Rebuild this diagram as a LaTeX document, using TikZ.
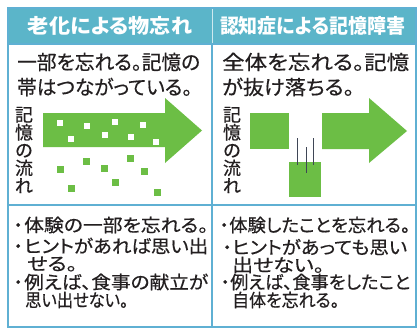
\documentclass[tikz,border=0pt]{standalone}
\usepackage{graphicx}
\usepackage{fontspec}
\newfontfamily\jp[RawFeature=+palt,FakeBold=0.5]{Noto Sans CJK JP}
\newfontfamily\jpv[FakeBold=0.6]{Noto Sans CJK JP}
\newfontfamily\jpH[RawFeature=+palt]{Noto Sans CJK JP}
\newcommand\fitw[2]{\resizebox{#1pt}{\height}{#2}}
\newcommand\bdL{\llap{\makebox[12pt][c]{・}}}
\newcommand\bdR{\llap{\makebox[10pt][c]{・}}}
\definecolor{headc}{HTML}{5BB5C9}
\definecolor{linec}{HTML}{5FB0D3}
\definecolor{grn}{HTML}{6CBE45}
\definecolor{ink}{HTML}{231F20}
\definecolor{motion}{HTML}{3F4656}
\tikzset{
  head/.style={inner sep=0, text=white, anchor=center, font=\jpH\bfseries\fontsize{20}{22}\selectfont},
  lead/.style={inner sep=0, anchor=west, text=ink, font=\jp\fontsize{20}{22}\selectfont},
  vert/.style={inner sep=0, align=center, text=ink, font=\jpv\fontsize{18}{17.8}\selectfont},
  bul/.style={inner sep=0, anchor=west, text=ink, font=\jp\fontsize{18}{20}\selectfont},
  wsq/.style={fill=white, draw=none},
  gsq/.style={fill=grn, draw=none},
  frame/.style={draw=linec, line width=1.2pt},
  mline/.style={draw=motion, line width=0.9pt}
}
\begin{document}
\begin{tikzpicture}[x=1pt,y=-1pt]
\useasboundingbox (0,0) rectangle (419,329);
\fill[white] (0,0) rectangle (419,329);
% header band
\fill[headc] (8,8) rectangle (416,44);
\draw[white!70!headc, line width=1pt] (212,8) -- (212,44);
% frame
\draw[frame] (8,8) rectangle (416,327);
\draw[frame] (8,44) -- (416,44);
\draw[frame] (8,205) -- (416,205);
\draw[frame] (212,44) -- (212,327);
% headers
\node[head] (h1) at (110,26) {\fitw{164}{老化による物忘れ}};
\node[head] (h2) at (312.5,26) {\fitw{185}{認知症による記憶障害}};
% lead texts
\node[lead] (l1) at (17,62) {\fitw{183}{一部を忘れる。記憶の}};
\node[lead] (l2) at (17,87) {\fitw{175}{帯はつながっている。}};
\node[lead] (r1) at (222,62) {\fitw{187}{全体を忘れる。記憶}};
\node[lead] (r2) at (222,87) {\fitw{132}{が抜け落ちる。}};
% vertical labels
\node[vert] (v1) at (24,150) {記\\憶\\の\\流\\れ};
\node[vert] (v2) at (232,150) {記\\憶\\の\\流\\れ};
% left arrow
\fill[grn] (43,113) -- (165,113) -- (165,98) -- (202,130.5) -- (165,163) -- (165,147) -- (43,147) -- cycle;
\foreach \x/\y in {60/123, 87/126, 115/122, 143/125, 71/139, 105/135, 131/137, 156/142}
  \fill[wsq] (\x-3.2,\y-3.2) rectangle (\x+3.2,\y+3.2);
\foreach \x/\y in {60/169, 86/161, 104/168, 130/158, 144/171, 71/188, 115/182, 157/192}
  \fill[gsq] (\x-3.5,\y-3.5) rectangle (\x+3.5,\y+3.5);
% right side
\fill[grn] (250,113) rectangle (289,149);
\fill[grn] (289,162) rectangle (321,197);
\fill[grn] (322,113) -- (369,113) -- (369,98) -- (407,131) -- (369,163) -- (369,149) -- (322,149) -- cycle;
\draw[mline] (297,138) -- (297,165);
\draw[mline] (306,147) -- (306,173);
\draw[mline] (313,138) -- (313,165);
% bullets left
\node[bul] (b1) at (24,225) {\bdL\fitw{184}{体験の一部を忘れる。}};
\node[bul] (b2) at (24,246) {\bdL\fitw{184}{ヒントがあれば思い出}};
\node[bul] (b3) at (27,264) {\fitw{50}{せる。}};
\node[bul] (b4) at (24,282) {\bdL\fitw{184}{例えば、食事の献立が}};
\node[bul] (b5) at (25,300) {\fitw{103}{思い出せない。}};
% bullets right
\node[bul] (c1) at (229,225) {\bdR\fitw{181}{体験したことを忘れる。}};
\node[bul] (c2) at (232,247) {\bdR\fitw{175}{ヒントがあっても思い}};
\node[bul] (c3) at (232,265) {\fitw{92}{出せない。}};
\node[bul] (c4) at (230,282) {\bdR\fitw{180}{例えば、食事をしたこと}};
\node[bul] (c5) at (232,300) {\fitw{107}{自体を忘れる。}};
\end{tikzpicture}
\end{document}
